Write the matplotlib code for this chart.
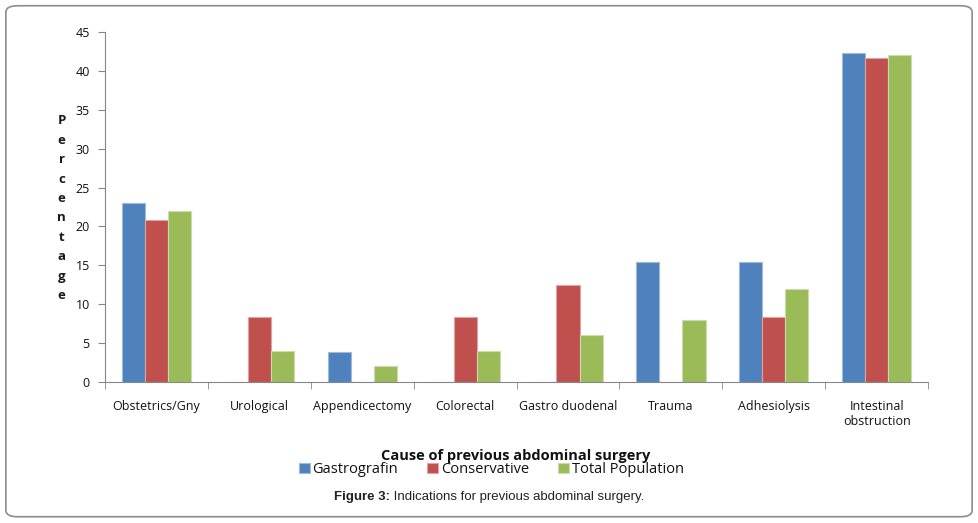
import numpy as np
import matplotlib.pyplot as plt
from matplotlib.patches import FancyBboxPatch

categories = ["Obstetrics/Gny", "Urological", "Appendicectomy", "Colorectal",
              "Gastro duodenal", "Trauma", "Adhesiolysis", "Intestinal\nobstruction"]
gastrografin = [23.0, 0, 3.8, 0, 0, 15.4, 15.4, 42.3]
conservative = [20.8, 8.3, 0, 8.3, 12.5, 0, 8.3, 41.7]
total_population = [22.0, 4.0, 2.0, 4.0, 6.0, 8.0, 12.0, 42.0]

series = [("Gastrografin", gastrografin, "#4F81BD", "#9DB9DC"),
          ("Conservative", conservative, "#C0504D", "#E0A3A1"),
          ("Total Population", total_population, "#9BBB59", "#C9DCA9")]

plt.rcParams["font.family"] = ["Open Sans", "DejaVu Sans"]

fig = plt.figure(figsize=(9.79, 5.23), dpi=100)
ax = fig.add_axes([0.1073, 0.2696, 0.8407, 0.6692])

x = np.arange(len(categories))
w = 0.225
for i, (name, vals, col, edge) in enumerate(series):
    ax.bar(x + (i - 1) * w, vals, width=w, color=col, edgecolor=edge,
           linewidth=0.8, label=name)

ax.set_xlim(-0.5, len(categories) - 0.5)
ax.set_ylim(0, 45)
ax.set_yticks(range(0, 46, 5))
ax.set_xticks(x)
ax.set_xticklabels(categories, fontsize=9, color="#111111", linespacing=1.2)
ax.set_xticks(np.arange(-0.5, len(categories)), minor=True)
ax.tick_params(axis="x", which="major", length=0, pad=13)
ax.tick_params(axis="x", which="minor", length=5, color="#868686", direction="out")
ax.tick_params(axis="y", length=5, color="#868686", labelsize=9, labelcolor="#111111", pad=6)
for s in ["top", "right"]:
    ax.spines[s].set_visible(False)
for s in ["left", "bottom"]:
    ax.spines[s].set_color("#868686")

fig.text(0.063, 0.602, "\n".join("Percentage"), ha="center", va="center",
         fontsize=9.5, fontweight="bold", color="#1a1a1a", linespacing=1.64)

fig.text(0.527, 0.128, "Cause of previous abdominal surgery", ha="center", va="center",
         fontsize=10.5, fontweight="bold", color="#111111")
ax.legend(loc="center", bbox_to_anchor=(0.502, 0.102), bbox_transform=fig.transFigure,
          ncol=3, frameon=False, fontsize=10.5, handlelength=0.75, handleheight=0.75,
          handletextpad=0.2, columnspacing=2.0, labelcolor="#111111")

# caption: bold "Figure 3:" followed by normal text, centred as a whole
renderer = fig.canvas.get_renderer()
cap_kw = dict(fontsize=9.5, family="Liberation Sans", color="#222222", va="center")
t1 = fig.text(0, 0.049, "Figure 3:", fontweight="bold", **cap_kw)
t2 = fig.text(0, 0.049, " Indications for previous abdominal surgery.", **cap_kw)
w1 = t1.get_window_extent(renderer).width / fig.bbox.width
w2 = t2.get_window_extent(renderer).width / fig.bbox.width
x0 = 0.5 - (w1 + w2) / 2
t1.set_x(x0)
t2.set_x(x0 + w1)

frame = FancyBboxPatch((0.006, 0.012), 0.987, 0.977, boxstyle="round,pad=0,rounding_size=0.012",
                       transform=fig.transFigure, fill=False, edgecolor="#8c8c8c", linewidth=1.2)
fig.patches.append(frame)

fig.savefig("out.png", dpi=100)
